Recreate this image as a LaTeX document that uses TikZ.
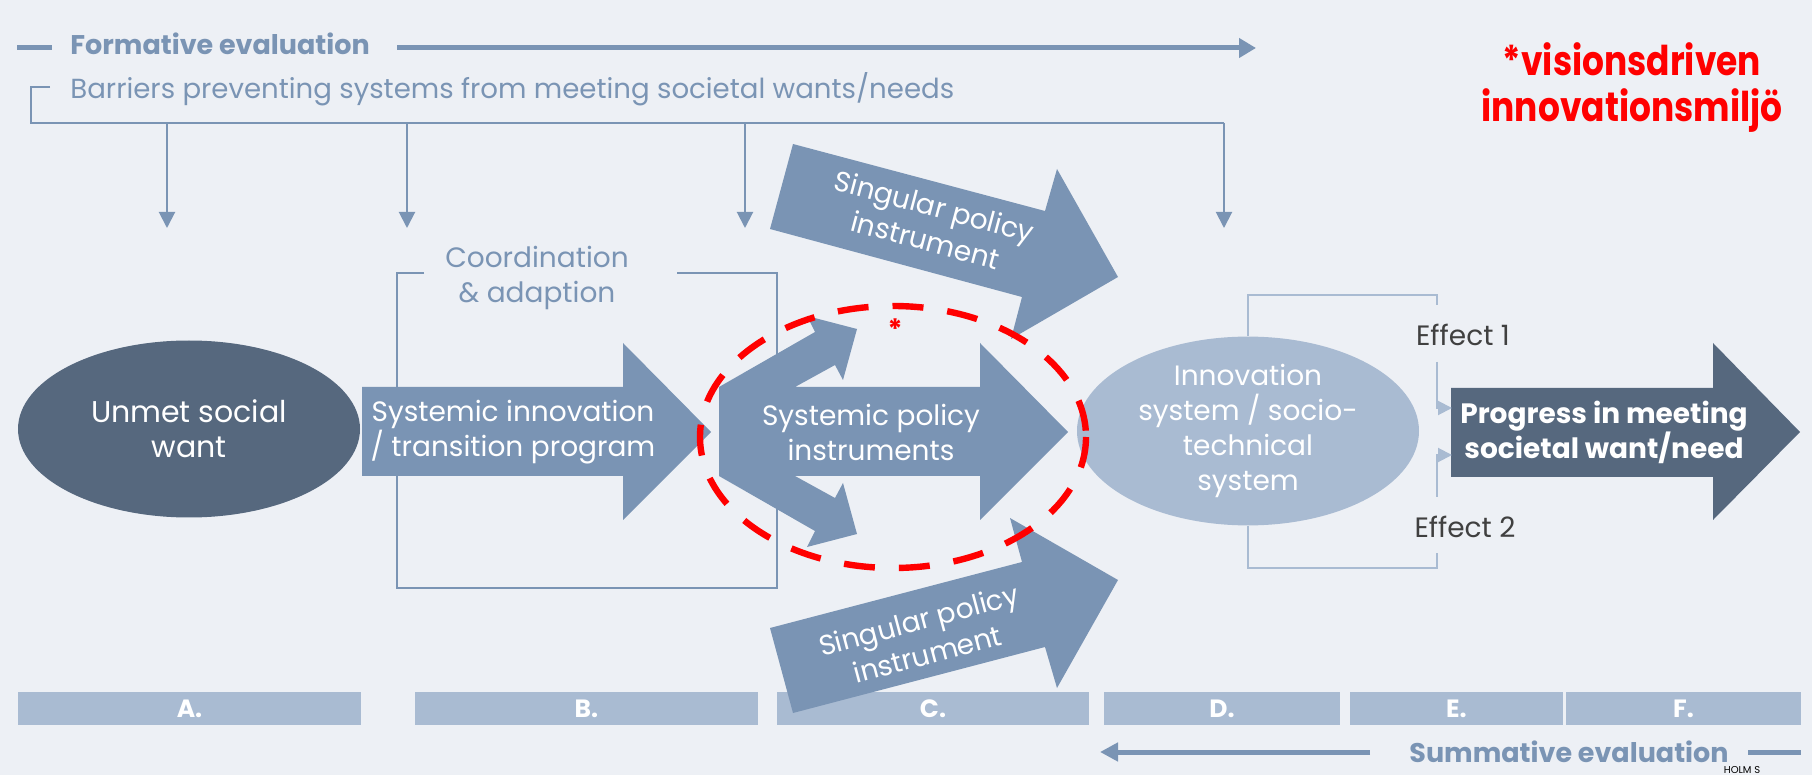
\documentclass[tikz,border=0pt]{standalone}
\usepackage{fontspec}
\setmainfont{Poppins}
\newfontfamily\condfont{Poppins}[FakeStretch=0.84]
\usetikzlibrary{arrows.meta,shapes.geometric}

\definecolor{steel}{HTML}{7A94B4}
\definecolor{slate}{HTML}{56687E}
\definecolor{pale}{HTML}{A9BBD2}
\definecolor{bgcol}{HTML}{EDF0F5}
\definecolor{effgray}{HTML}{404040}

\begin{document}
\begin{tikzpicture}[x=0.5pt,y=-0.5pt,
	txt/.style={align=center, inner sep=0pt, font=\fontsize{14}{17.5}\selectfont},
	wtxt/.style={txt, text=white},
	guide/.style={steel, line width=1pt},
	down/.style={guide, -{Triangle[width=8pt,length=8pt]}},
	evalline/.style={steel, line width=2.5pt},
	evaltxt/.style={inner sep=0pt, text=steel, font=\bfseries\fontsize{13.5}{13.5}\selectfont},
	barbox/.style={fill=pale, text=white, inner sep=0pt, minimum height=16.5pt, font=\bfseries\fontsize{12.5}{12.5}\selectfont},
	effect/.style={pale, line width=1pt},
	effarrow/.style={effect, -{Triangle[width=7pt,length=7pt]}}]
	\useasboundingbox (0,0) rectangle (1812,775);
	\fill[bgcol] (0,0) rectangle (1812,775);

	% formative evaluation
	\draw[evalline] (17,48) -- (52,48);
	\node[evaltxt, anchor=base west] (formative) at (70,55) {Formative evaluation};
	\coordinate (formstart) at (397,48);
	\coordinate (formend) at (1256,48);
	\draw[evalline, -{Triangle[width=9.5pt,length=8.5pt]}] (formstart) -- (formend);

	% barriers
	\node[txt, text=steel, anchor=base west, font=\fontsize{13.8}{13.8}\selectfont] (barriers) at (70,99) {Barriers preventing systems from meeting societal wants/needs};
	\coordinate (b1) at (167,228);
	\coordinate (b2) at (407,228);
	\coordinate (b3) at (745,228);
	\coordinate (b4) at (1224,228);
	\draw[guide] (50,87) -- (31,87) -- (31,123) -- (1224,123);
	\draw[down] (1224,123) -- (b4);
	\foreach \b in {b1,b2,b3}
		\draw[down] (\b |- 0,123) -- (\b);

	\node[text=red, align=center, inner sep=0pt, font=\condfont\bfseries\fontsize{20.5}{23}\selectfont] (vision) at (1632,88) {*visionsdriven\\innovationsmiljö};

	% coordination bracket
	\draw[guide] (424,273) -- (397,273) -- (397,588) -- (777,588) -- (777,273) -- (677,273);
	\node[txt, text=steel] (coord) at (537,278) {Coordination\\\& adaption};

	% bars
	\node[barbox, minimum width=171.5pt] (A) at (189.5,708.5) {A.};
	\node[barbox, minimum width=171.5pt] (B) at (586.5,708.5) {B.};
	\node[barbox, minimum width=156pt] (C) at (933,708.5) {C.};
	\node[barbox, minimum width=118pt] (D) at (1222,708.5) {D.};
	\node[barbox, minimum width=106.5pt] (E) at (1456.5,708.5) {E.};
	\node[barbox, minimum width=117.5pt] (F) at (1683.5,708.5) {F.};

	% shapes
	\node[ellipse, fill=slate, minimum width=171pt, minimum height=88.5pt, wtxt, font=\fontsize{15}{17.5}\selectfont] (unmet) at (189,429) {Unmet social\\want};
	\fill[steel] (362,387) -- (623,387) -- (623,343) -- (711,432) -- (623,520) -- (623,476) -- (362,476) -- cycle;
	\node[wtxt] (sysinno) at (513,432) {Systemic innovation\\/ transition program};
	\fill[steel] (719,387) -- (815,332) -- (807,316) -- (857,329) -- (843,380) -- (835,365) -- (795,387) -- (980,387) -- (980,343) -- (1068,432)
		-- (980,520) -- (980,476) -- (795,476) -- (835,498) -- (843,483) -- (857,534) -- (807,547) -- (815,531) -- (719,476) -- cycle;
	\node[wtxt] (syspol) at (871,432) {Systemic policy\\instruments};
	\fill[steel] (793,144) -- (1045,211) -- (1057,169) -- (1118,277) -- (1011,339) -- (1022,297) -- (770,229) -- cycle;
	\node[wtxt, rotate=-15] (singtop) at (930,223) {Singular policy\\instrument};
	\fill[steel] (770,628) -- (1022,562) -- (1010,518) -- (1118,580) -- (1057,688) -- (1045,647) -- (793,713) -- cycle;
	\node[wtxt, rotate=15] (singbot) at (923,637) {Singular policy\\instrument};
	\node[ellipse, fill=pale, minimum width=171pt, minimum height=88pt, wtxt] (innosys) at (1248,431) {Innovation\\system / socio-\\technical\\system};
	\fill[slate] (1451,388) -- (1713,388) -- (1713,343) -- (1800,432) -- (1713,520) -- (1713,477) -- (1451,477) -- cycle;
	\node[wtxt, font=\bfseries\fontsize{14}{17.5}\selectfont] (progress) at (1604,432) {Progress in meeting\\societal want/need};

	% effects
	\draw[effect] (innosys.north) |- (1437,295) -- (1437,305);
	\draw[effect] (innosys.south) |- (1437,568) -- (1437,553);
	\draw[effarrow] (1437,362) |- (1452,408);
	\draw[effarrow] (1437,497) |- (1452,455);
	\node[txt, text=effgray] (eff1) at (1463,335) {Effect 1};
	\node[txt, text=effgray] (eff2) at (1465,527) {Effect 2};

	% vision circle
	\draw[red, line width=3.2pt, dash pattern=on 15.5pt off 12pt] (893,437) ellipse [x radius=193, y radius=131];
	\node[text=red, inner sep=0pt, anchor=north, font=\bfseries\fontsize{14}{14}\selectfont] (star) at (895,318) {*};

	% summative evaluation
	\coordinate (sumstart) at (1370,752);
	\coordinate (sumend) at (1100,752);
	\draw[evalline, -{Triangle[width=9pt,length=9pt]}] (sumstart) -- (sumend);
	\node[evaltxt] (summative) at (1569,752) {Summative evaluation};
	\draw[evalline] (1748,752) -- (1801,752);
	\node[inner sep=0pt, anchor=north, font=\fontsize{5}{5}\selectfont] (logo) at (1742,766) {HOLM S};
\end{tikzpicture}
\end{document}
